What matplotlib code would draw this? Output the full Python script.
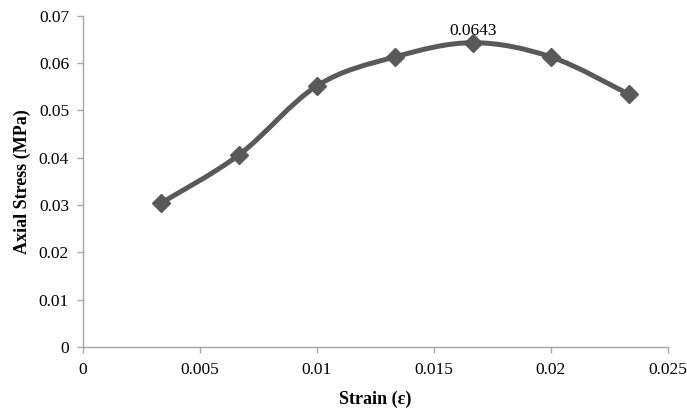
import numpy as np
import matplotlib
matplotlib.use("Agg")
import matplotlib.pyplot as plt
from matplotlib.path import Path
from matplotlib.patches import PathPatch

strain = [0.003333, 0.006667, 0.010000, 0.013333, 0.016667, 0.020000, 0.023333]
stress = [0.0304, 0.0406, 0.0552, 0.0613, 0.0643, 0.0613, 0.0534]
peak_label = "0.0643"
x_ticks = [0, 0.005, 0.01, 0.015, 0.02, 0.025]
x_tick_labels = ["0", "0.005", "0.01", "0.015", "0.02", "0.025"]
y_ticks = [0, 0.01, 0.02, 0.03, 0.04, 0.05, 0.06, 0.07]
y_tick_labels = ["0", "0.01", "0.02", "0.03", "0.04", "0.05", "0.06", "0.07"]

plt.rcParams["font.family"] = ["Liberation Serif", "DejaVu Serif"]

fig = plt.figure(figsize=(6.87, 4.12), dpi=100)
ax = fig.add_axes([0.1208, 0.1578, 0.8515, 0.804])

LINE = "#595959"

# Smoothed line: cubic Bezier through the points (Catmull-Rom style control points)
pts = np.column_stack([strain, stress])
n = len(pts)
verts = [tuple(pts[0])]
codes = [Path.MOVETO]
for i in range(n - 1):
    p0 = pts[i - 1] if i > 0 else pts[i]
    p1 = pts[i]
    p2 = pts[i + 1]
    p3 = pts[i + 2] if i + 2 < n else pts[i + 1]
    c1 = p1 + (p2 - p0) / 6.0
    c2 = p2 - (p3 - p1) / 6.0
    verts += [tuple(c1), tuple(c2), tuple(p2)]
    codes += [Path.CURVE4] * 3
curve = PathPatch(Path(verts, codes), facecolor="none", edgecolor=LINE,
                  lw=3.6, capstyle="round", joinstyle="round", zorder=3)
ax.add_patch(curve)

ax.plot(strain, stress, linestyle="none", marker="D", markersize=9,
        color=LINE, markeredgecolor=LINE, zorder=4)

ipk = int(np.argmax(stress))
ax.annotate(peak_label, (strain[ipk], stress[ipk]), xytext=(0, 3),
            textcoords="offset points", ha="center", va="bottom",
            fontsize=12.5, color="#000000")

ax.set_xlim(0, 0.025)
ax.set_ylim(0, 0.07)
ax.set_xticks(x_ticks)
ax.set_xticklabels(x_tick_labels)
ax.set_yticks(y_ticks)
ax.set_yticklabels(y_tick_labels)

for s in ("top", "right"):
    ax.spines[s].set_visible(False)
for s in ("left", "bottom"):
    ax.spines[s].set_color("#a6a6a6")
    ax.spines[s].set_linewidth(1.0)
ax.tick_params(axis="both", direction="out", length=4, width=1.0,
               color="#a6a6a6", labelsize=12.5, labelcolor="#000000")
ax.tick_params(axis="x", pad=7)
ax.tick_params(axis="y", pad=6)

ax.set_xlabel("Strain (ε)", fontsize=13, fontweight="bold", labelpad=9)
ax.set_ylabel("Axial Stress (MPa)", fontsize=13, fontweight="bold", labelpad=6)

fig.savefig("out.png", dpi=100)
